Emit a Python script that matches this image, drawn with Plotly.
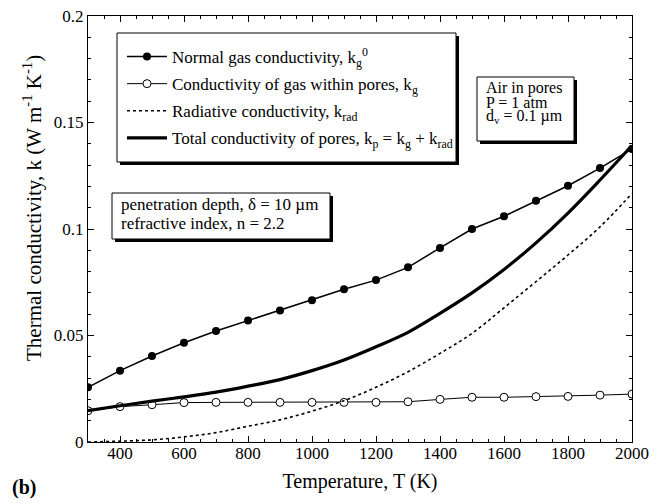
import plotly.graph_objects as go

# ---- data ----
temperature = [300, 400, 500, 600, 700, 800, 900, 1000, 1100, 1200,
               1300, 1400, 1500, 1600, 1700, 1800, 1900, 2000]
k_normal = [0.0257, 0.0335, 0.0404, 0.0466, 0.0521, 0.0570, 0.0617, 0.0665, 0.0717,
            0.0760, 0.0820, 0.0911, 0.1000, 0.1060, 0.1133, 0.1203, 0.1286, 0.1376]
k_pores = [0.0147, 0.0166, 0.0175, 0.0185, 0.0186, 0.0186, 0.0186, 0.0186, 0.0186,
           0.0186, 0.0189, 0.0200, 0.0210, 0.0210, 0.0213, 0.0214, 0.0220, 0.0225]
k_rad = [0.0000, 0.0004, 0.0010, 0.0024, 0.0044, 0.0074, 0.0104, 0.0145, 0.0194,
         0.0257, 0.0330, 0.0416, 0.0510, 0.0630, 0.0753, 0.0878, 0.1010, 0.1167]
k_total = [0.0147, 0.0170, 0.0192, 0.0212, 0.0234, 0.0262, 0.0293, 0.0335, 0.0385,
           0.0447, 0.0515, 0.0604, 0.0700, 0.0810, 0.0935, 0.1075, 0.1230, 0.1392]

x_ticks = [400, 600, 800, 1000, 1200, 1400, 1600, 1800, 2000]
y_ticks = [0, 0.05, 0.1, 0.15, 0.2]
y_tick_labels = ["0", "0.05", "0.1", "0.15", "0.2"]

FONT = "Liberation Serif, Times New Roman, serif"
OFF = 8  # page body margin
W, H = 662 - OFF, 504 - OFF
L, R, T, B = 88 - OFF, 30, 16 - OFF, 62
PW, PH = W - L - R, H - T - B


def px(xp):
    return (xp - OFF - L) / PW


def py(yp):
    return (H - B - (yp - OFF)) / PH


fig = go.Figure()
fig.add_trace(go.Scatter(
    x=temperature, y=k_normal, mode="lines+markers",
    name="Normal gas conductivity, k<sub>g</sub><sup>0</sup>",
    line=dict(color="black", width=1.5),
    marker=dict(symbol="circle", size=8, color="black"),
    legendgroup="a"))
fig.add_trace(go.Scatter(
    x=temperature, y=k_pores, mode="lines+markers",
    name="Conductivity of gas within pores, k<sub>g</sub>",
    line=dict(color="black", width=1.0),
    marker=dict(symbol="circle", size=8, color="white",
                line=dict(color="black", width=1)),
    legendgroup="b"))
fig.add_trace(go.Scatter(
    x=temperature, y=k_rad, mode="lines",
    name="Radiative conductivity, k<sub>rad</sub>",
    line=dict(color="black", width=1.6, dash="dot", shape="spline"),
    legendgroup="c"))
fig.add_trace(go.Scatter(
    x=temperature, y=k_total, mode="lines",
    name="Total conductivity of pores, k<sub>p</sub> = k<sub>g</sub> + k<sub>rad</sub>",
    line=dict(color="black", width=3.2, shape="spline"),
    legendgroup="d"))

shapes = []


def shadow_box(x0, y0, x1, y1, off=3):
    shapes.append(dict(type="rect", xref="paper", yref="paper",
                       x0=px(x0 + off), x1=px(x1 + off), y0=py(y1 + off), y1=py(y0 + off),
                       fillcolor="black", line=dict(width=0), layer="above"))
    shapes.append(dict(type="rect", xref="paper", yref="paper",
                       x0=px(x0), x1=px(x1), y0=py(y1), y1=py(y0),
                       fillcolor="white", line=dict(color="black", width=1), layer="above"))


shadow_box(117, 33, 456, 162)
shadow_box(477, 77, 574, 141)
shadow_box(112, 193, 330, 239)

annotations = []


def text_at(x, y, s, size=17):
    annotations.append(dict(
        x=px(x), y=py(y), xref="paper", yref="paper", text=s, showarrow=False,
        xanchor="left", yanchor="middle",
        font=dict(family=FONT, size=size, color="black")))


text_at(484, 88, "Air in pores", size=16)
text_at(484, 102, "P = 1 atm", size=16)
text_at(484, 117, "d<sub>v</sub> = 0.1 µm", size=16)
text_at(119, 205, "penetration depth, δ = 10 µm")
text_at(119, 223, "refractive index, n = 2.2")
text_at(10, 487, "<b>(b)</b>", size=20)
annotations.append(dict(
    x=px(33), y=py(208), xref="paper", yref="paper",
    text="Thermal conductivity, k (W m<sup>-1</sup> K<sup>-1</sup>)",
    showarrow=False, textangle=-90, xanchor="center", yanchor="middle",
    font=dict(family=FONT, size=21, color="black")))

fig.update_layout(
    width=W, height=H,
    margin=dict(l=L, r=R, t=T, b=B, pad=0, autoexpand=False),
    paper_bgcolor="white", plot_bgcolor="white",
    font=dict(family=FONT, size=17, color="black"),
    showlegend=True,
    legend=dict(x=px(122), y=py(39), xanchor="left", yanchor="top",
                bgcolor="rgba(0,0,0,0)", borderwidth=0,
                font=dict(family=FONT, size=17, color="black"),
                tracegroupgap=2, itemwidth=40),
    shapes=shapes, annotations=annotations,
)
fig.update_xaxes(
    range=[300, 2000], tickvals=x_ticks, ticks="inside", ticklen=6, tickwidth=1,
    tickcolor="black", showline=True, linecolor="black", linewidth=1, mirror="allticks",
    showgrid=False, zeroline=False, ticklabelstandoff=-4, ticklabeloverflow="allow",
    automargin=False,
    tickfont=dict(family=FONT, size=17, color="black"),
    minor=dict(dtick=50, ticks="inside", ticklen=3, tickcolor="black", showgrid=False),
    title=dict(text="Temperature, T (K)", font=dict(family=FONT, size=20, color="black"),
               standoff=11),
)
fig.update_yaxes(
    range=[0, 0.2], tickvals=y_ticks, ticktext=y_tick_labels, ticks="inside", ticklen=6,
    tickwidth=1, tickcolor="black", showline=True, linecolor="black", linewidth=1,
    mirror="allticks", showgrid=False, zeroline=False, ticklabeloverflow="allow",
    automargin=False,
    tickfont=dict(family=FONT, size=17, color="black"),
    minor=dict(dtick=0.01, ticks="inside", ticklen=3, tickcolor="black", showgrid=False),
)

fig.write_html("out.html")
